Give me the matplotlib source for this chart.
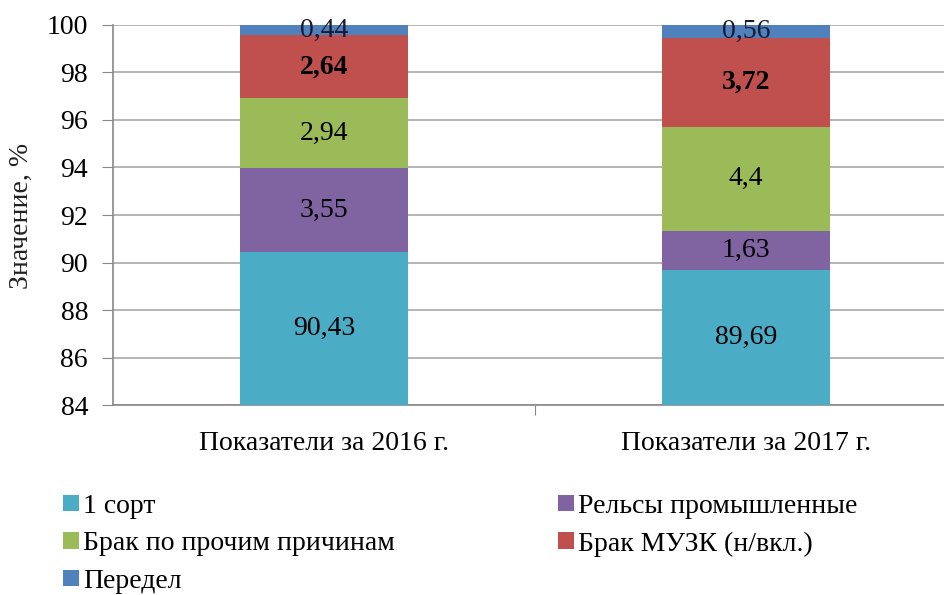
import matplotlib.pyplot as plt
import numpy as np

plt.rcParams['font.family'] = ['Liberation Serif', 'DejaVu Serif']

# Структура продукции по годам, %
years = ['Показатели за 2016 г.', 'Показатели за 2017 г.']
series = ['1 сорт', 'Рельсы промышленные', 'Брак по прочим причинам',
          'Брак МУЗК (н/вкл.)', 'Передел']
sort1 = [90.43, 89.69]
rails = [3.55, 1.63]
brak_other = [2.94, 4.4]
brak_muzk = [2.64, 3.72]
peredel = [0.44, 0.56]

values = [sort1, rails, brak_other, brak_muzk, peredel]
colors = ['#4BACC6', '#8064A2', '#9BBB59', '#C0504D', '#4F81BD']

fig = plt.figure(figsize=(9.45, 5.95), dpi=100)
ax = fig.add_axes([0.1196, 0.3193, 0.8931, 0.6387])

ymin, ymax = 84, 100
x = np.arange(len(years))
bottom = np.zeros(len(years))
bars = []
for name, vals, col in zip(series, values, colors):
    b = ax.bar(x, vals, 0.4, bottom=bottom, color=col, label=name, zorder=3)
    bars.append(b)
    for i, v in enumerate(vals):
        lo = max(bottom[i], ymin)
        hi = min(bottom[i] + v, ymax)
        txt = f'{v:g}'.replace('.', ',')
        bold = name == 'Брак МУЗК (н/вкл.)'
        ax.text(x[i], (lo + hi) / 2, txt, ha='center', va='center',
                fontsize=20, fontweight='bold' if bold else 'normal',
                color='#1a1a33' if name == 'Передел' else 'black', zorder=4)
    bottom += np.array(vals)

ax.set_xlim(-0.5, 1.5)
ax.set_ylim(ymin, ymax)
ax.set_yticks(np.arange(84, 101, 2))
ax.tick_params(axis='y', labelsize=20, length=8, color='#888888', pad=10)
ax.set_xticks([0.5])
ax.set_xticklabels([''])
ax.tick_params(axis='x', length=7, color='#888888')
for i, lab in enumerate(years):
    ax.text(x[i], 82.4, lab, ha='center', va='center', fontsize=20)

ax.grid(axis='y', color='#a0a0a0', linewidth=1.1, zorder=0)
for s in ['top', 'right']:
    ax.spines[s].set_visible(False)
ax.spines['left'].set_color('#888888')
ax.spines['bottom'].set_color('#888888')
ax.spines['left'].set_linewidth(1.2)
ax.spines['bottom'].set_linewidth(1.2)

fig.text(0.023, 0.637, 'Значение, %', rotation=90, ha='center', va='center',
         fontsize=20, color='#222222')

# легенда: две колонки, каждая своим блоком
leg_kw = dict(loc='upper left', frameon=False, fontsize=20,
              handlelength=0.55, handleheight=0.55, handletextpad=0.15,
              labelspacing=0.45, borderaxespad=0, borderpad=0)
left_idx = [0, 2, 4]
right_idx = [1, 3]
fig.legend([bars[i] for i in left_idx], [series[i] for i in left_idx],
           bbox_to_anchor=(0.067, 0.170), **leg_kw)
fig.legend([bars[i] for i in right_idx], [series[i] for i in right_idx],
           bbox_to_anchor=(0.591, 0.170), **leg_kw)

fig.savefig('out.png', dpi=100)
